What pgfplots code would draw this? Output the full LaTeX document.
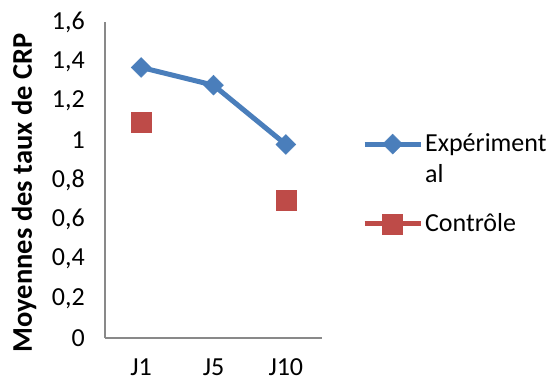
\documentclass[border=0pt]{standalone}
\usepackage{pgfplots}
\pgfplotsset{compat=1.18}
\usepackage{fontspec}
\setmainfont{Carlito}
\definecolor{expblue}{HTML}{4A7EBB}
\definecolor{ctrlred}{HTML}{BE4B48}
\definecolor{axisgray}{HTML}{898989}

\pgfplotstableread{
x  y
0  1.37
1  1.28
2  0.98
}\experimental
\pgfplotstableread{
x  y
0  1.09
2  0.70
}\controle

\begin{document}
\fontsize{26}{31}\selectfont
\begin{tikzpicture}
\useasboundingbox (0,0) rectangle (548pt,381pt);
\begin{axis}[
  at={(105pt,43pt)}, anchor=south west,
  scale only axis, width=217pt, height=316pt,
  xmin=-0.5, xmax=2.5, ymin=0, ymax=1.6,
  axis x line*=bottom, axis y line*=left,
  axis line style={axisgray, line width=1.3pt},
  xtick={0,1,2}, xticklabels={J1,J5,J10},
  ytick={0,0.2,...,1.6},
  major tick length=0pt,
  tick style={draw=none},
  /pgf/number format/assume math mode=true,
  /pgf/number format/use comma,
  /pgf/number format/fixed,
  /pgf/number format/precision=1,
  yticklabel style={anchor=east, inner sep=0pt, xshift=-20pt},
  xticklabel style={anchor=base, inner sep=0pt, yshift=-37pt},
  ylabel={\fontsize{28.5}{34}\selectfont\bfseries Moyennes des taux de CRP},
  ylabel style={at={(rel axis cs:-0.373,0.459)}, anchor=center, inner sep=0pt},
  legend style={draw=none, fill=none, at={(rel axis cs:1.184,0.655)}, anchor=north west,
    inner sep=0pt, row sep=54pt, cells={anchor=west},
    /tikz/every even column/.append style={column sep=3pt}},
  legend image code/.code={%
    \draw[#1, mark=none] (0pt,0pt) -- (56pt,0pt);
    \draw[#1, only marks] plot coordinates {(28pt,0pt)};},
  clip=false,
]
\addplot[expblue, line width=5pt, mark=square*,
  mark options={rotate=45, mark size=7pt, line width=0.5pt, fill=expblue}]
  table[x=x, y=y] {\experimental};
\addlegendentry{\rlap{\raisebox{-31pt}[0pt][0pt]{al}}Expériment}
\addplot[ctrlred, line width=5pt, only marks, mark=square*,
  mark options={mark size=10pt, line width=0.5pt, fill=ctrlred}]
  table[x=x, y=y] {\controle};
\addlegendentry{Contrôle}
\end{axis}
\end{tikzpicture}
\end{document}
